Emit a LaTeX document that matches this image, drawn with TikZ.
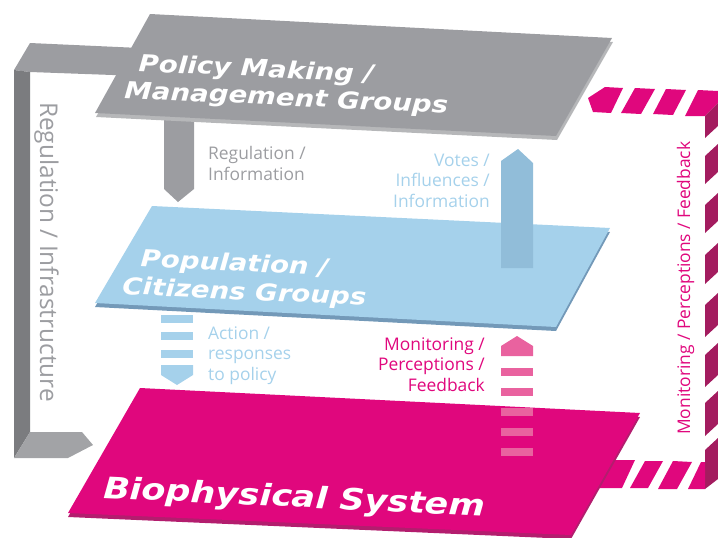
\documentclass[tikz,border=0pt]{standalone}
\usepackage{fontspec}
\setmainfont{Open Sans}
\newfontfamily\titlefont[FakeStretch=1.175]{DejaVu Sans Bold Oblique}
\definecolor{grayface}{HTML}{9C9DA1}
\definecolor{grayface2}{HTML}{A2A3A6}
\definecolor{graydark}{HTML}{7B7C7F}
\definecolor{grayedge}{HTML}{B6B7B9}
\definecolor{blueface}{HTML}{A5D1EB}
\definecolor{blueedge}{HTML}{7399B8}
\definecolor{bluearrow}{HTML}{91BDD9}
\definecolor{magface}{HTML}{E0077D}
\definecolor{magedge}{HTML}{B31D6E}
\definecolor{magdark}{HTML}{A31C5F}
\definecolor{pinkarrow}{HTML}{E9629F}
\tikzset{
  lbl/.style={inner sep=0pt, font=\fontsize{17.4}{20.5}\selectfont},
  ttl/.style={inner sep=0pt, text=white, rotate=-2.7, anchor=base west, align=left},
}
\begin{document}
\begin{tikzpicture}[x=1pt,y=-1pt]
\useasboundingbox (0,0) rectangle (718,538);
% ---- gray L-shaped arrow (Regulation / Infrastructure)
\fill[grayface] (14,70)--(30,43)--(140,48)--(140,76)--(30,72)--cycle;
\fill[graydark] (14,70)--(30,72)--(30,432)--(14,458)--cycle;
\fill[grayface2] (14,458)--(30,432)--(82,432)--(93,445)--(68,458)--cycle;
% ---- gray down arrow
\fill[grayface] (164,105)--(194,105)--(194,189)--(178,202)--(164,189)--cycle;
% ---- gray plate
\fill[grayedge] (151,18)--(613,42)--(557,140)--(96,117)--cycle;
\fill[grayface] (150,14)--(612,38)--(556,136)--(95,113)--cycle;
% ---- blue plate
\fill[blueedge] (152,210)--(610,232)--(556,331)--(95,307)--cycle;
\fill[blueface] (152,206)--(610,228)--(556,327)--(95,303)--cycle;
% ---- blue up arrow
\fill[bluearrow] (501,268)--(501,161)--(518,149)--(533,163)--(533,268)--cycle;
% ---- blue dashed down arrow
\foreach \a/\b in {315/323,332/340,350/358}
  \fill[blueface] (161,\a) rectangle (193,\b);
\fill[blueface] (161,365)--(193,365)--(193,375)--(177,385)--(161,375)--cycle;
% ---- right magenta dashed bracket
% top bar
\fill[magface] (588,98)--(605,87)--(623,88)--(611,113)--(593,112)--cycle;
\fill[magface] (635,88)--(655,89)--(641,114)--(621,113)--cycle;
\fill[magface] (666,89)--(686,90)--(673,115)--(653,114)--cycle;
\fill[magface] (698,90)--(718,91)--(718,103)--(705,116)--(685,116)--cycle;
% vertical dark pieces
\fill[magdark] (705,116)--(718,103)--(718,126)--(705,138)--cycle;
\foreach \y/\l in {156/28,205/28,255/29,305/32,355/32,403/33}
  \fill[magdark] (705,\y)--(718,\y-12)--(718,\y-12+\l)--(705,\y+\l)--cycle;
\fill[magdark] (705,450)--(718,438)--(718,479)--(705,489)--cycle;
% bottom bar
\fill[magface] (590,460)--(635,460)--(622,488)--(575,488)--cycle;
\fill[magface] (645,461)--(663,461)--(648,488)--(630,488)--cycle;
\fill[magface] (673,461)--(692,462)--(677,489)--(658,489)--cycle;
\fill[magface] (701,462)--(705,462)--(705,489)--(688,489)--cycle;
% ---- magenta plate
\fill[magedge] (140,392)--(640,417)--(571,539)--(68,517)--cycle;
\fill[magface] (140,388)--(640,413)--(571,535)--(68,513)--cycle;
% ---- pink dashed up arrow
\fill[pinkarrow] (501,356)--(501,346)--(517,336)--(533,346)--(533,356)--cycle;
\foreach \a/\b in {368/376,388/396,408/416,428/436,448/456}
  \fill[pinkarrow] (501,\a) rectangle (533,\b);
% ---- titles (base anchor = baseline of last line)
\node[ttl,font=\titlefont\fontsize{23.5}{27.5}\selectfont] (pm) at (124,98) {\hspace{13pt}Policy Making /\\Management Groups};
\node[ttl,font=\titlefont\fontsize{23.5}{28}\selectfont] (pc) at (122,294) {\hspace{17pt}Population /\\Citizens Groups};
\node[ttl,font=\titlefont\fontsize{29.75}{34}\selectfont] (bs) at (103,498) {Biophysical System};
% ---- labels (base anchor = baseline of last line)
\node[lbl,text=grayface,anchor=base west,align=left] (reg) at (208,180) {Regulation /\\Information};
\node[lbl,text=blueface,anchor=base east,align=right] (vot) at (490,207) {Votes /\\Influences /\\Information};
\node[lbl,text=blueface,anchor=base west,align=left] (act) at (208,380) {Action /\\responses\\to policy};
\node[lbl,text=magface,anchor=base east,align=right] (mon) at (485,391) {Monitoring /\\Perceptions /\\Feedback};
\node[inner sep=0pt,text=grayface,anchor=base west,rotate=-90,font=\fontsize{24.4}{28}\selectfont] (infra) at (40,102) {Regulation / Infrastructure};
\node[lbl,text=magface,anchor=base west,rotate=90] (monv) at (690,435) {Monitoring / Perceptions / Feedback};
\end{tikzpicture}
\end{document}
